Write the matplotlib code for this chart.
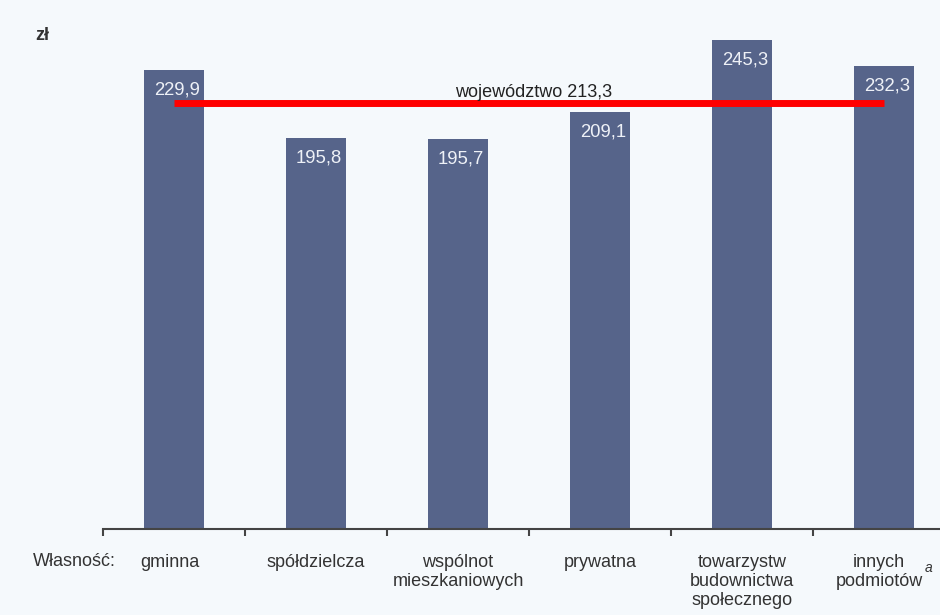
import matplotlib
matplotlib.use("Agg")
import matplotlib.pyplot as plt
import numpy as np

categories = ["gminna", "spółdzielcza", "wspólnot\nmieszkaniowych", "prywatna",
              "towarzystw\nbudownictwa\nspołecznego", "innych\npodmiotów"]
values = [229.9, 195.8, 195.7, 209.1, 245.3, 232.3]
value_labels = ["229,9", "195,8", "195,7", "209,1", "245,3", "232,3"]
region_value = 213.3
region_label = "województwo 213,3"
unit_label = "zł"
axis_title = "Własność:"

bg = "#F5F9FC"
bar_color = "#56648A"
text_color = "#333333"
PT = 72 / 100  # points per pixel at 100 dpi

fig = plt.figure(figsize=(9.4, 6.15), dpi=100, facecolor=bg)
ax = fig.add_axes([103/940, 1 - 529/615, 852/940, 529/615])
ax.set_facecolor(bg)

x = np.arange(len(categories))
ax.bar(x, values, width=60/142, color=bar_color, zorder=2)
ax.set_xlim(-0.5, len(categories) - 0.5)
ax.set_ylim(0, 529/1.995)

for xi, v, lab in zip(x, values, value_labels):
    ax.annotate(lab, (xi, v), xytext=(3*PT, -20*PT), textcoords="offset points",
                ha="center", va="center", color="#EEF1F7", fontsize=13.3,
                family="Liberation Sans", zorder=4)

ax.plot([0, len(categories) - 1], [region_value, region_value], color="#FF0000", lw=5,
        solid_capstyle="butt", zorder=3)
ax.annotate(region_label, (2.5, region_value), xytext=(5*PT, 11*PT),
            textcoords="offset points", ha="center", va="center",
            fontsize=13, color="#222222", family="Liberation Sans", zorder=4)

for s in ["top", "right", "left"]:
    ax.spines[s].set_visible(False)
ax.spines["bottom"].set_color("#444444")
ax.spines["bottom"].set_linewidth(1.5)
ax.set_yticks([])
ax.set_xticks(np.arange(-0.5, len(categories) + 0.5, 1.0))
ax.set_xticklabels([])
ax.tick_params(axis="x", direction="out", length=5, width=1.5, color="#444444")

label_dx = [-4, 0, 0, 0, 0, -5]
for xi, c, dx in zip(x, categories, label_dx):
    ax.annotate(c, (xi, 0), xytext=(dx*PT, -25*PT), textcoords="offset points",
                ha="center", va="top", fontsize=13, color=text_color,
                family="Liberation Sans", linespacing=1.15)

fig.text(33/940, 1 - 562/615, axis_title, ha="left", va="center", fontsize=13,
         color=text_color, family="Liberation Sans")
fig.text(929/940, 1 - 568/615, "a", ha="center", va="center", fontsize=10,
         style="italic", color=text_color, family="Liberation Sans")
fig.text(35/940, 1 - 35/615, unit_label, ha="left", va="center", fontsize=13,
         weight="bold", color="#333333", family="Liberation Sans")

fig.savefig("out.png", dpi=100, facecolor=bg)
